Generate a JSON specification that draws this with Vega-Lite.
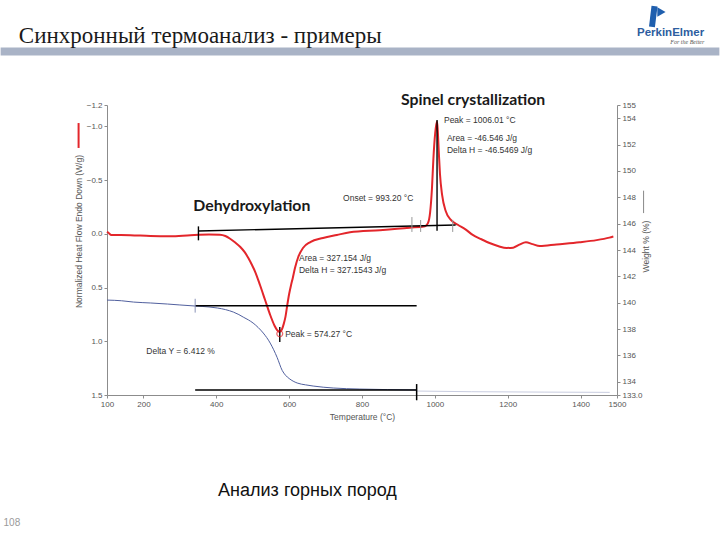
{
  "$schema": "https://vega.github.io/schema/vega-lite/v6.json",
  "width": 510,
  "height": 290,
  "autosize": {"type": "none"},
  "padding": {"left": 107, "top": 105, "right": 103, "bottom": 145},
  "background": "#ffffff",
  "config": {
    "view": {"stroke": null},
    "axis": {
      "grid": false,
      "domainColor": "#8c8c8c",
      "tickColor": "#8c8c8c",
      "labelColor": "#555555",
      "labelFont": "Liberation Sans",
      "labelFontSize": 8,
      "titleFont": "Liberation Sans",
      "titleFontSize": 8.5,
      "titleColor": "#555555",
      "titleFontWeight": "normal",
      "tickSize": 3,
      "labelPadding": 2,
      "labelFlush": false,
      "labelOverlap": false
    }
  },
  "datasets": {
    "hf": [
      {"T": 100, "v": -0.02}, {"T": 104, "v": -0.01}, {"T": 112, "v": 0.01}, {"T": 164, "v": 0.012},
      {"T": 219, "v": 0.02}, {"T": 274, "v": 0.022}, {"T": 329, "v": 0.012}, {"T": 380, "v": 0.006},
      {"T": 410, "v": 0.008}, {"T": 425, "v": 0.02}, {"T": 438, "v": 0.045}, {"T": 452, "v": 0.08},
      {"T": 466, "v": 0.122}, {"T": 478, "v": 0.17}, {"T": 488, "v": 0.225}, {"T": 498, "v": 0.29},
      {"T": 507, "v": 0.355}, {"T": 520, "v": 0.476}, {"T": 534, "v": 0.616}, {"T": 548, "v": 0.755},
      {"T": 560, "v": 0.855}, {"T": 567, "v": 0.895}, {"T": 574, "v": 0.912}, {"T": 580, "v": 0.89},
      {"T": 585, "v": 0.84}, {"T": 590, "v": 0.77}, {"T": 595, "v": 0.66}, {"T": 600, "v": 0.56},
      {"T": 605, "v": 0.48}, {"T": 610, "v": 0.41}, {"T": 616, "v": 0.318}, {"T": 625, "v": 0.215},
      {"T": 638, "v": 0.131}, {"T": 658, "v": 0.076}, {"T": 693, "v": 0.038}, {"T": 731, "v": 0.01},
      {"T": 767, "v": -0.015}, {"T": 849, "v": -0.035}, {"T": 931, "v": -0.058}, {"T": 973, "v": -0.072},
      {"T": 981, "v": -0.1}, {"T": 987, "v": -0.2}, {"T": 992, "v": -0.42}, {"T": 996, "v": -0.7},
      {"T": 1001, "v": -0.94}, {"T": 1004, "v": -1.02}, {"T": 1006, "v": -1.045}, {"T": 1008, "v": -0.96},
      {"T": 1011, "v": -0.75}, {"T": 1014, "v": -0.56}, {"T": 1020, "v": -0.36}, {"T": 1030, "v": -0.21},
      {"T": 1044, "v": -0.13}, {"T": 1063, "v": -0.085}, {"T": 1085, "v": -0.04}, {"T": 1104, "v": 0.01},
      {"T": 1128, "v": 0.05}, {"T": 1150, "v": 0.085}, {"T": 1175, "v": 0.115}, {"T": 1197, "v": 0.131},
      {"T": 1215, "v": 0.128}, {"T": 1232, "v": 0.1}, {"T": 1250, "v": 0.078}, {"T": 1268, "v": 0.095},
      {"T": 1288, "v": 0.113}, {"T": 1334, "v": 0.098}, {"T": 1397, "v": 0.078}, {"T": 1444, "v": 0.058},
      {"T": 1479, "v": 0.035}, {"T": 1490, "v": 0.025}
    ],
    "wt": [
      {"T": 100, "w": 140.2}, {"T": 140, "w": 140.15}, {"T": 173, "w": 140.05}, {"T": 220, "w": 139.98},
      {"T": 266, "w": 139.9}, {"T": 300, "w": 139.83}, {"T": 342, "w": 139.75}, {"T": 380, "w": 139.68},
      {"T": 403, "w": 139.6}, {"T": 425, "w": 139.48}, {"T": 447, "w": 139.29}, {"T": 462, "w": 139.1},
      {"T": 474, "w": 138.91}, {"T": 488, "w": 138.7}, {"T": 501, "w": 138.46}, {"T": 515, "w": 138.12},
      {"T": 529, "w": 137.7}, {"T": 548, "w": 136.94}, {"T": 567, "w": 135.85}, {"T": 581, "w": 134.86},
      {"T": 590, "w": 134.5}, {"T": 600, "w": 134.25}, {"T": 622, "w": 133.91}, {"T": 645, "w": 133.77},
      {"T": 666, "w": 133.68}, {"T": 721, "w": 133.53}, {"T": 794, "w": 133.45}, {"T": 870, "w": 133.41},
      {"T": 950, "w": 133.38}
    ],
    "wtail": [
      {"T": 950, "w": 133.3}, {"T": 1100, "w": 133.25}, {"T": 1300, "w": 133.22}, {"T": 1480, "w": 133.2}
    ],
    "hfseg": [
      {"name": "baseline", "T": 351, "v": -0.027, "T2": 1057, "v2": -0.083},
      {"name": "peak", "T": 1006, "v": -1.06, "T2": 1006, "v2": -0.03},
      {"name": "peak", "T": 574.27, "v": 0.867, "T2": 574.27, "v2": 1.007},
      {"name": "start", "T": 351, "v": -0.07, "T2": 351, "v2": 0.06},
      {"name": "limit", "T": 937, "v": -0.157, "T2": 937, "v2": -0.018},
      {"name": "limit", "T": 961, "v": -0.129, "T2": 961, "v2": -0.018},
      {"name": "limit", "T": 1049, "v": -0.13, "T2": 1049, "v2": -0.018},
      {"name": "legend", "T": 22, "v": -1.032, "T2": 22, "v2": -0.8},
      {"name": "band", "T": -192, "v": -1.698, "T2": 1781, "v2": -1.698},
      {"name": "logo", "T": 1596, "v": -1.927, "T2": 1603, "v2": -2.12}
    ],
    "wseg": [
      {"name": "upper", "T": 342, "w": 139.77, "T2": 950, "w2": 139.77},
      {"name": "lower", "T": 342, "w": 133.38, "T2": 950, "w2": 133.38},
      {"name": "end", "T": 950, "w": 133.83, "T2": 950, "w2": 132.6},
      {"name": "start", "T": 342, "w": 140.3, "T2": 342, "w2": 139.25},
      {"name": "wlegend", "T": 1573, "w": 148.5, "T2": 1573, "w2": 146.8}
    ],
    "marks": [
      {"name": "peak", "T": 574.27, "v": 0.93},
      {"name": "logo", "T": 1622, "v": -2.066}
    ],
    "notes": [
      {"role": "heading", "label": "Spinel crystallization", "T": 907, "v": -1.247},
      {"role": "heading", "label": "Dehydroxylation", "T": 337, "v": -0.26},
      {"role": "note", "label": "Peak = 1006.01 °C", "T": 1025, "v": -1.06},
      {"role": "note", "label": "Area = -46.546 J/g", "T": 1033, "v": -0.893},
      {"role": "note", "label": "Delta H = -46.5469 J/g", "T": 1033, "v": -0.781},
      {"role": "note", "label": "Onset = 993.20 °C", "T": 748, "v": -0.334},
      {"role": "note", "label": "Area = 327.154 J/g", "T": 627, "v": 0.225},
      {"role": "note", "label": "Delta H = 327.1543 J/g", "T": 627, "v": 0.336},
      {"role": "note", "label": "Peak = 574.27 °C", "T": 589, "v": 0.932},
      {"role": "note", "label": "Delta Y = 6.412 %", "T": 208, "v": 1.09},
      {"role": "title", "label": "Синхронный термоанализ - примеры", "T": -142, "v": -1.777},
      {"role": "footer", "label": "Анализ горных пород", "T": 405, "v": 2.44},
      {"role": "page", "label": "108", "T": -184, "v": 2.69},
      {"role": "logo", "label": "PerkinElmer", "T": 1647, "v": -1.87},
      {"role": "tagline", "label": "For the Better", "T": 1693, "v": -1.787}
    ]
  },
  "encoding": {
    "x": {
      "field": "T",
      "type": "quantitative",
      "scale": {"domain": [100, 1500], "nice": false, "zero": false},
      "axis": {
        "title": "Temperature (°C)",
        "values": [100, 200, 400, 600, 800, 1000, 1200, 1400, 1500],
        "format": "d",
        "titlePadding": 4
      }
    }
  },
  "resolve": {
    "scale": {"y": "independent"},
    "axis": {"y": "independent"}
  },
  "layer": [
    {
      "encoding": {
        "y": {
          "field": "v",
          "type": "quantitative",
          "scale": {"domain": [-1.2, 1.5], "reverse": true, "nice": false, "zero": false},
          "axis": {
            "orient": "left",
            "title": "Normalized Heat Flow Endo Down (W/g)",
            "values": [-1.2, -1.0, -0.5, 0, 0.5, 1.0, 1.5],
            "format": ".1f",
            "titleX": -29,
            "titleY": 126,
            "titleBaseline": "middle",
            "titleAngle": 270
          }
        }
      },
      "layer": [
        {
          "data": {"name": "hfseg"},
          "transform": [{"filter": "datum.name == 'band'"}],
          "mark": {"type": "rule", "color": "#a9b3c6", "strokeWidth": 8},
          "encoding": {"x2": {"field": "T2"}, "y2": {"field": "v2"}}
        },
        {
          "data": {"name": "hf"},
          "mark": {"type": "line", "color": "#e3262b", "strokeWidth": 2, "interpolate": "monotone"}
        },
        {
          "data": {"name": "hfseg"},
          "transform": [{"filter": "datum.name == 'baseline' || datum.name == 'peak' || datum.name == 'start'"}],
          "mark": {"type": "rule", "color": "#000000", "strokeWidth": 1.4},
          "encoding": {"x2": {"field": "T2"}, "y2": {"field": "v2"}}
        },
        {
          "data": {"name": "hfseg"},
          "transform": [{"filter": "datum.name == 'limit'"}],
          "mark": {"type": "rule", "color": "#999999", "strokeWidth": 1},
          "encoding": {"x2": {"field": "T2"}, "y2": {"field": "v2"}}
        },
        {
          "data": {"name": "hfseg"},
          "transform": [{"filter": "datum.name == 'legend'"}],
          "mark": {"type": "rule", "color": "#e3262b", "strokeWidth": 2},
          "encoding": {"x2": {"field": "T2"}, "y2": {"field": "v2"}}
        },
        {
          "data": {"name": "hfseg"},
          "transform": [{"filter": "datum.name == 'logo'"}],
          "mark": {"type": "rule", "color": "#1f5fae", "strokeWidth": 6},
          "encoding": {"x2": {"field": "T2"}, "y2": {"field": "v2"}}
        },
        {
          "data": {"name": "marks"},
          "transform": [{"filter": "datum.name == 'peak'"}],
          "mark": {"type": "point", "shape": "circle", "filled": false, "color": "#e3262b", "size": 35, "strokeWidth": 1.2}
        },
        {
          "data": {"name": "marks"},
          "transform": [{"filter": "datum.name == 'logo'"}],
          "mark": {"type": "point", "shape": "triangle-right", "filled": true, "color": "#1f5fae", "size": 90, "opacity": 1}
        },
        {
          "data": {"name": "notes"},
          "transform": [{"filter": "datum.role == 'heading'"}],
          "mark": {"type": "text", "align": "left", "baseline": "middle", "font": "Lato", "fontWeight": "bold", "fontSize": 15.8, "color": "#1a1a1a"},
          "encoding": {"text": {"field": "label"}}
        },
        {
          "data": {"name": "notes"},
          "transform": [{"filter": "datum.role == 'note'"}],
          "mark": {"type": "text", "align": "left", "baseline": "middle", "font": "Liberation Sans", "fontSize": 8.5, "color": "#333333"},
          "encoding": {"text": {"field": "label"}}
        },
        {
          "data": {"name": "notes"},
          "transform": [{"filter": "datum.role == 'title'"}],
          "mark": {"type": "text", "align": "left", "baseline": "alphabetic", "font": "Liberation Serif", "fontSize": 23, "color": "#1a1a1a"},
          "encoding": {"text": {"field": "label"}}
        },
        {
          "data": {"name": "notes"},
          "transform": [{"filter": "datum.role == 'footer'"}],
          "mark": {"type": "text", "align": "left", "baseline": "alphabetic", "font": "Liberation Sans", "fontSize": 18, "color": "#111111"},
          "encoding": {"text": {"field": "label"}}
        },
        {
          "data": {"name": "notes"},
          "transform": [{"filter": "datum.role == 'page'"}],
          "mark": {"type": "text", "align": "left", "baseline": "middle", "font": "Liberation Sans", "fontSize": 10, "color": "#9a9a9a"},
          "encoding": {"text": {"field": "label"}}
        },
        {
          "data": {"name": "notes"},
          "transform": [{"filter": "datum.role == 'logo'"}],
          "mark": {"type": "text", "align": "center", "baseline": "middle", "font": "Liberation Sans", "fontWeight": "bold", "fontSize": 11.5, "color": "#2d5da0"},
          "encoding": {"text": {"field": "label"}}
        },
        {
          "data": {"name": "notes"},
          "transform": [{"filter": "datum.role == 'tagline'"}],
          "mark": {"type": "text", "align": "center", "baseline": "middle", "font": "Liberation Serif", "fontStyle": "italic", "fontSize": 6, "color": "#555555"},
          "encoding": {"text": {"field": "label"}}
        }
      ]
    },
    {
      "encoding": {
        "y": {
          "field": "w",
          "type": "quantitative",
          "scale": {"domain": [133, 155], "nice": false, "zero": false},
          "axis": {
            "orient": "right",
            "title": "Weight % (%)",
            "values": [133, 134, 136, 138, 140, 142, 144, 146, 148, 150, 152, 154, 155],
            "format": "d",
            "labelExpr": "datum.value == 133 ? '133.0' : datum.label",
            "titleAngle": 270,
            "titleX": 28,
            "titleY": 141,
            "titleBaseline": "middle"
          }
        }
      },
      "layer": [
        {
          "data": {"name": "wt"},
          "mark": {"type": "line", "color": "#51609e", "strokeWidth": 1, "interpolate": "monotone"}
        },
        {
          "data": {"name": "wtail"},
          "mark": {"type": "line", "color": "#c9cde0", "strokeWidth": 1}
        },
        {
          "data": {"name": "wseg"},
          "transform": [{"filter": "datum.name == 'upper' || datum.name == 'lower' || datum.name == 'end'"}],
          "mark": {"type": "rule", "color": "#000000", "strokeWidth": 1.5},
          "encoding": {"x2": {"field": "T2"}, "y2": {"field": "w2"}}
        },
        {
          "data": {"name": "wseg"},
          "transform": [{"filter": "datum.name == 'start'"}],
          "mark": {"type": "rule", "color": "#8a93b8", "strokeWidth": 1},
          "encoding": {"x2": {"field": "T2"}, "y2": {"field": "w2"}}
        },
        {
          "data": {"name": "wseg"},
          "transform": [{"filter": "datum.name == 'wlegend'"}],
          "mark": {"type": "rule", "color": "#888888", "strokeWidth": 1},
          "encoding": {"x2": {"field": "T2"}, "y2": {"field": "w2"}}
        }
      ]
    }
  ]
}
